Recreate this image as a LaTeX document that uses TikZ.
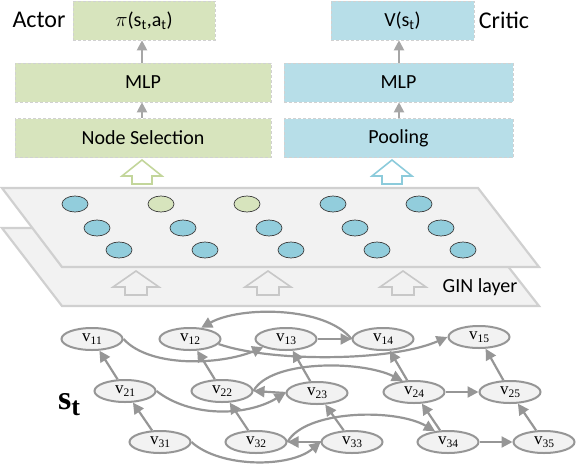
\documentclass[tikz,border=0pt]{standalone}
\usepackage{fontspec}
\setmainfont{Carlito}
\newfontfamily\serifv{Liberation Serif}
\usetikzlibrary{arrows.meta,shapes.geometric}
\definecolor{boxgreen}{HTML}{D7E4BD}
\definecolor{boxcyan}{HTML}{B7DEE8}
\definecolor{dotcyan}{HTML}{92CDDC}
\definecolor{dotgreen}{HTML}{D7E4BD}
\definecolor{planefill}{HTML}{F2F2F2}
\definecolor{planeline}{HTML}{D0D0D0}
\definecolor{edgegray}{HTML}{969696}
\definecolor{arrgray}{HTML}{A6A6A6}
\definecolor{hollowgreen}{HTML}{C3D69B}
\definecolor{hollowcyan}{HTML}{8CCBDB}
\definecolor{hollowgray}{HTML}{C8C8C8}
\newcommand\vn[1]{{\serifv\fontsize{17}{17}\selectfont v\raisebox{-3pt}{\fontsize{11.5}{11.5}\selectfont #1}}}
\newcommand\harrow[7]{\draw[draw=#7, fill=#1, line width=1.6pt, line join=miter]
  (#2-#6,#5) -- (#2-#6,#4) -- (#2-#3,#4) -- (#2,#4-16) -- (#2+#3,#4) -- (#2+#6,#4) -- (#2+#6,#5) -- cycle;}
\tikzset{
  mbox/.style={draw=black!18, densely dashed, line width=0.6pt, minimum height=39pt, inner sep=0pt,
    font=\fontsize{20}{24}\selectfont},
  gbox/.style={mbox, fill=boxgreen},
  cbox/.style={mbox, fill=boxcyan},
  uparrow/.style={draw=arrgray, line width=2pt, -{Triangle[length=10pt,width=10pt]}},
  plane/.style={draw=planeline, fill=planefill, line width=2.2pt, line join=miter},
  dot/.style={ellipse, draw=black!75, line width=0.7pt, minimum width=26pt, minimum height=16pt, inner sep=0pt},
  gnode/.style={ellipse, draw=edgegray, fill=planefill, line width=2pt, minimum width=61pt,
    minimum height=22pt, inner sep=0pt},
  gedge/.style={draw=edgegray, line width=2.2pt, -{Triangle[length=11pt,width=11pt]}},
  lbl/.style={font=\fontsize{24}{28}\selectfont, inner sep=0pt}
}
\begin{document}
\begin{tikzpicture}[x=1pt,y=-1pt]
\useasboundingbox (0,0) rectangle (576,464);
% top boxes
\node[gbox, minimum width=142pt] (pi) at (144,20.5) {$\pi$(s\textsubscript{t},a\textsubscript{t})};
\node[gbox, minimum width=256pt] (amlp) at (143,82.5) {MLP};
\node[gbox, minimum width=256pt] (nsel) at (143,138) {Node Selection};
\node[cbox, minimum width=143pt] (v) at (402.5,20.5) {V(s\textsubscript{t})};
\node[cbox, minimum width=229pt] (cmlp) at (398.5,82.5) {MLP};
\node[cbox, minimum width=229pt] (pool) at (398.5,138) {Pooling};
\node[lbl] (actor) at (39,20) {Actor};
\node[lbl] (critic) at (504,20) {Critic};
\draw[uparrow] (amlp.north -| 142,0) -- (pi.south -| 142,0);
\draw[uparrow] (nsel.north -| 142,0) -- (amlp.south -| 142,0);
\draw[uparrow] (cmlp.north -| 399,0) -- (v.south -| 399,0);
\draw[uparrow] (pool.north -| 399,0) -- (cmlp.south -| 399,0);
% hollow arrows up to boxes
\harrow{white}{142}{20}{176}{184}{10}{hollowgreen}
\harrow{white}{392}{20}{176}{184}{10}{hollowcyan}
% planes
\draw[plane] (2,228) -- (478,228) -- (539,306) -- (62,306) -- cycle;
\harrow{planefill}{136}{23}{287}{295}{11}{hollowgray}
\harrow{planefill}{268}{23}{287}{295}{11}{hollowgray}
\harrow{planefill}{403}{23}{287}{295}{11}{hollowgray}
\node[font=\fontsize{20}{24}\selectfont, inner sep=0pt] (gin) at (480,287) {GIN layer};
\draw[plane] (2,188) -- (478,188) -- (539,267) -- (62,267) -- cycle;
% dots
\foreach \i/\x in {1/75,2/161,3/247,4/333,5/419}{
  \ifnum\i=2 \node[dot, fill=dotgreen] (d1\i) at (\x,204) {};
  \else\ifnum\i=3 \node[dot, fill=dotgreen] (d1\i) at (\x,204) {};
  \else \node[dot, fill=dotcyan] (d1\i) at (\x,204) {}; \fi\fi
}
\foreach \i/\x in {1/97,2/183,3/269,4/355,5/441}{\node[dot, fill=dotcyan] (d2\i) at (\x,228) {};}
\foreach \i/\x in {1/119,2/205,3/291,4/377,5/463}{\node[dot, fill=dotcyan] (d3\i) at (\x,250) {};}
% graph nodes
\node[gnode] (v11) at (92,339) {\vn{11}};
\node[gnode] (v12) at (190,339) {\vn{12}};
\node[gnode] (v13) at (286,339) {\vn{13}};
\node[gnode] (v14) at (383,339) {\vn{14}};
\node[gnode] (v15) at (479,337) {\vn{15}};
\node[gnode] (v21) at (125,391) {\vn{21}};
\node[gnode] (v22) at (222,391) {\vn{22}};
\node[gnode] (v23) at (317,393) {\vn{23}};
\node[gnode] (v24) at (414,392) {\vn{24}};
\node[gnode] (v25) at (510,392) {\vn{25}};
\node[gnode] (v31) at (160,442) {\vn{31}};
\node[gnode] (v32) at (256,442) {\vn{32}};
\node[gnode] (v33) at (352,442) {\vn{33}};
\node[gnode] (v34) at (448,442) {\vn{34}};
\node[gnode] (v35) at (544,442) {\vn{35}};
\node[inner sep=0pt] (st) at (69,405) {\serifv\bfseries\fontsize{34}{34}\selectfont s\raisebox{-6pt}{\fontsize{26}{26}\selectfont t}};
% column edges
\draw[gedge] (v21) -- (v11);
\draw[gedge] (v31) -- (v21);
\draw[gedge] (v22) -- (v12);
\draw[gedge] (v32) -- (v22);
\draw[gedge] (v23) -- (v13);
\draw[gedge] (v33) -- (v23);
\draw[gedge] (v24) -- (v14);
\draw[gedge] (v34) -- (v24);
\draw[gedge] (v25) -- (v15);
\draw[gedge] (v35) -- (v25);
% row edges
\draw[gedge] (v13) -- (v14);
\draw[gedge] (v24) -- (v25);
\draw[gedge] (v34) -- (v35);
\draw[gedge] (v11.east) .. controls (150,368) and (220,365) .. (v13.200);
\draw[gedge] (v12.-10) .. controls (270,362) and (390,362) .. (v15.west);
\draw[gedge] (v14.west) .. controls (325,306) and (240,306) .. (v12.45);
\draw[gedge] (v21.east) .. controls (190,417) and (245,417) .. (v23.west);
\draw[gedge] (v23.west) -- (v22.east);
\draw[gedge] (v22.east) .. controls (270,360) and (360,360) .. (v24.135);
\draw[gedge] (v31.east) .. controls (220,468) and (290,468) .. (v33.west);
\draw[gedge] (v33.west) -- (v32.east);
\draw[gedge] (v32.east) .. controls (305,410) and (395,408) .. (v34.140);
\end{tikzpicture}
\end{document}
